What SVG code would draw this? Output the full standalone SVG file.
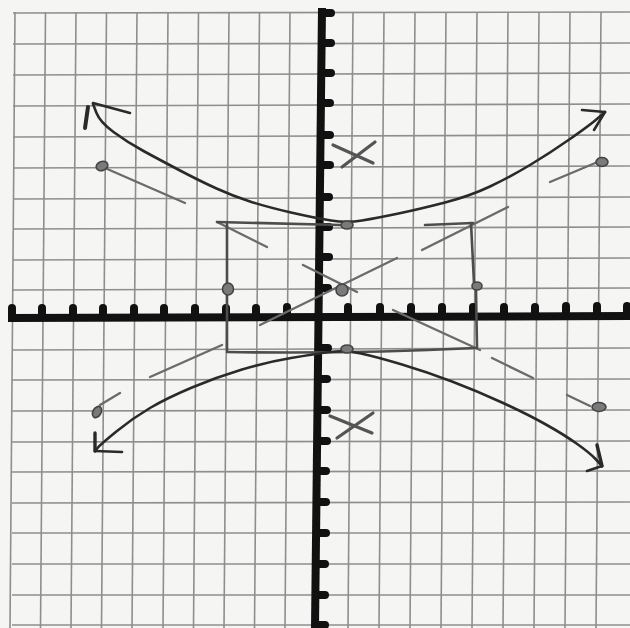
<svg xmlns="http://www.w3.org/2000/svg" width="630" height="628" viewBox="0 0 630 628">
<defs>
<style>
.grid line{stroke:#8e8e8e;stroke-width:1.6}
.axis{stroke:#111;stroke-width:8;fill:none}
.tick{fill:#111}
.curve{fill:none;stroke:#2a2a2a;stroke-width:2.6;stroke-linecap:round;stroke-linejoin:round}
.asym{fill:none;stroke:#6b6b6b;stroke-width:2.4;stroke-linecap:round}
.box{fill:none;stroke:#4d4d4d;stroke-width:2.6;stroke-linecap:round;stroke-linejoin:round}
.xmark{fill:none;stroke:#555;stroke-width:3.2;stroke-linecap:round}
.dot{fill:#7a7a7a;stroke:#444;stroke-width:1.6}
</style>
<path id="tu" d="M-4,1 L-4,-6 Q-4,-10 0,-10 Q4,-10 4,-6 L4,1 Z"/>
<path id="tr" d="M-1,-4 L6,-4 Q10,-4 10,0 Q10,4 6,4 L-1,4 Z"/>
</defs>
<rect width="630" height="628" fill="#f5f5f3"/>
<g id="grid" class="grid">
<line x1="15" y1="12" x2="10" y2="628"/>
<line x1="45.5" y1="12" x2="40.5" y2="628"/>
<line x1="76" y1="12" x2="71" y2="628"/>
<line x1="106.5" y1="12" x2="101.5" y2="628"/>
<line x1="137" y1="12" x2="132" y2="628"/>
<line x1="168" y1="12" x2="163" y2="628"/>
<line x1="198.5" y1="12" x2="193.5" y2="628"/>
<line x1="229" y1="12" x2="224" y2="628"/>
<line x1="259.5" y1="12" x2="254.5" y2="628"/>
<line x1="290" y1="12" x2="285" y2="628"/>
<line x1="353" y1="12" x2="348" y2="628"/>
<line x1="384" y1="12" x2="379" y2="628"/>
<line x1="415" y1="12" x2="410" y2="628"/>
<line x1="446" y1="12" x2="441" y2="628"/>
<line x1="477" y1="12" x2="472" y2="628"/>
<line x1="508" y1="12" x2="503" y2="628"/>
<line x1="539" y1="12" x2="534" y2="628"/>
<line x1="570" y1="12" x2="565" y2="628"/>
<line x1="601" y1="12" x2="596" y2="628"/>
<line x1="13" y1="13" x2="630" y2="12"/>
<line x1="13" y1="44" x2="630" y2="43"/>
<line x1="13" y1="75" x2="630" y2="73"/>
<line x1="13" y1="106" x2="630" y2="104"/>
<line x1="13" y1="137" x2="630" y2="135"/>
<line x1="13" y1="168" x2="630" y2="166"/>
<line x1="13" y1="199" x2="630" y2="197"/>
<line x1="13" y1="229" x2="630" y2="227"/>
<line x1="13" y1="260" x2="630" y2="258"/>
<line x1="13" y1="290" x2="630" y2="288"/>
<line x1="12" y1="350" x2="630" y2="348"/>
<line x1="12" y1="380" x2="630" y2="379"/>
<line x1="12" y1="411" x2="630" y2="410"/>
<line x1="12" y1="442" x2="630" y2="441"/>
<line x1="12" y1="472" x2="630" y2="471"/>
<line x1="12" y1="503" x2="630" y2="502"/>
<line x1="12" y1="533" x2="630" y2="533"/>
<line x1="12" y1="564" x2="630" y2="564"/>
<line x1="12" y1="595" x2="630" y2="595"/>
<line x1="12" y1="625" x2="630" y2="625"/>
</g>
<g id="axes">
<line class="axis" x1="8" y1="318" x2="630" y2="316"/>
<line class="axis" x1="322" y1="8" x2="315" y2="628"/>
<g class="tick">
<use href="#tu" x="12" y="314"/><use href="#tu" x="42" y="314"/><use href="#tu" x="73" y="314"/><use href="#tu" x="103" y="314"/><use href="#tu" x="134" y="314"/><use href="#tu" x="164" y="314"/><use href="#tu" x="195" y="314"/><use href="#tu" x="226" y="314"/><use href="#tu" x="256" y="314"/><use href="#tu" x="287" y="313"/>
<use href="#tu" x="348" y="313"/><use href="#tu" x="380" y="313"/><use href="#tu" x="411" y="313"/><use href="#tu" x="442" y="313"/><use href="#tu" x="473" y="313"/><use href="#tu" x="504" y="313"/><use href="#tu" x="535" y="313"/><use href="#tu" x="566" y="312"/><use href="#tu" x="597" y="312"/><use href="#tu" x="627" y="312"/>
<use href="#tr" x="325" y="13"/><use href="#tr" x="325" y="43"/><use href="#tr" x="325" y="73"/><use href="#tr" x="324" y="103"/><use href="#tr" x="324" y="135"/><use href="#tr" x="324" y="165"/><use href="#tr" x="323" y="197"/><use href="#tr" x="323" y="227"/><use href="#tr" x="323" y="257"/><use href="#tr" x="322" y="288"/>
<use href="#tr" x="322" y="348"/><use href="#tr" x="321" y="379"/><use href="#tr" x="321" y="410"/><use href="#tr" x="321" y="441"/><use href="#tr" x="320" y="471"/><use href="#tr" x="320" y="502"/><use href="#tr" x="320" y="533"/><use href="#tr" x="319" y="564"/><use href="#tr" x="319" y="595"/><use href="#tr" x="319" y="625"/>
</g>
</g>
<g id="asymptotes" class="asym">
<line x1="105" y1="168" x2="185" y2="203"/>
<line x1="217" y1="222" x2="267" y2="247"/>
<line x1="303" y1="265" x2="357" y2="292"/>
<line x1="393" y1="310" x2="480" y2="350"/>
<line x1="492" y1="358" x2="533" y2="378"/>
<line x1="567" y1="395" x2="590" y2="406"/>
<line x1="100" y1="405" x2="120" y2="393"/>
<line x1="150" y1="377" x2="222" y2="345"/>
<line x1="260" y1="325" x2="397" y2="258"/>
<line x1="422" y1="250" x2="508" y2="207"/>
<line x1="550" y1="182" x2="600" y2="161"/>
</g>
<g id="box" class="box">
<path d="M217,222 L340,225"/>
<path d="M425,225 L473,223"/>
<path d="M227,224 L227,350"/>
<path d="M227,352 Q350,354 475,348"/>
<path d="M471,223 L474,283"/>
<path d="M476,290 L477,348"/>
</g>
<g id="branches" class="curve">
<path d="M93,104 L96.5,113 Q100,122 113.5,132 Q127,142 143.5,151 Q160,160 180,170.5 Q200,181 216.5,188.5 Q233,196 250,201.5 Q267,207 291,212.5 Q315,218 331,220.5 Q347,223 362,220.5 Q377,218 398.5,213.5 Q420,209 445,202.5 Q470,196 490,186.5 Q510,177 530,165 Q550,153 570,139 Q590,125 597.5,118.5 L605,112"/>
<path d="M93,103 L130,113"/>
<path d="M88,107 L85,128" stroke-width="4"/>
<path d="M605,112 L582,110"/>
<path d="M605,112 L594,130"/>
<path d="M95,451 L98,447.5 Q101,444 117,431 Q133,418 150,408 Q167,398 192,387.5 Q217,377 242,369.5 Q267,362 291,358 Q315,354 330,352 Q345,350 361,353.5 Q377,357 402,364.5 Q427,372 452,381.5 Q477,391 502,402.5 Q527,414 545,424 Q563,434 576.5,443.5 Q590,453 596,459.5 L602,466"/>
<path d="M95,451 L95,433" stroke-width="3.4"/>
<path d="M95,451 L122,452"/>
<path d="M602,466 L597,445" stroke-width="3.4"/>
<path d="M602,466 L587,471"/>
</g>
<g id="points">
<ellipse class="dot" cx="102" cy="166" rx="6" ry="4.5" transform="rotate(-20 102 166)"/>
<ellipse class="dot" cx="602" cy="162" rx="6" ry="4.5"/>
<ellipse class="dot" cx="97" cy="412" rx="4" ry="6" transform="rotate(30 97 412)"/>
<ellipse class="dot" cx="599" cy="407" rx="7" ry="4.5"/>
<ellipse class="dot" cx="342" cy="290" rx="6" ry="6"/>
<ellipse class="dot" cx="347" cy="225" rx="6" ry="4"/>
<ellipse class="dot" cx="347" cy="349" rx="6" ry="4"/>
<ellipse class="dot" cx="228" cy="289" rx="5.5" ry="6"/>
<ellipse class="dot" cx="477" cy="286" rx="5" ry="4"/>
</g>
<g id="foci" class="xmark">
<path d="M333,145 L373,163"/>
<path d="M342,167 L375,142"/>
<path d="M330,416 L372,433"/>
<path d="M337,438 L373,413"/>
</g>
</svg>
